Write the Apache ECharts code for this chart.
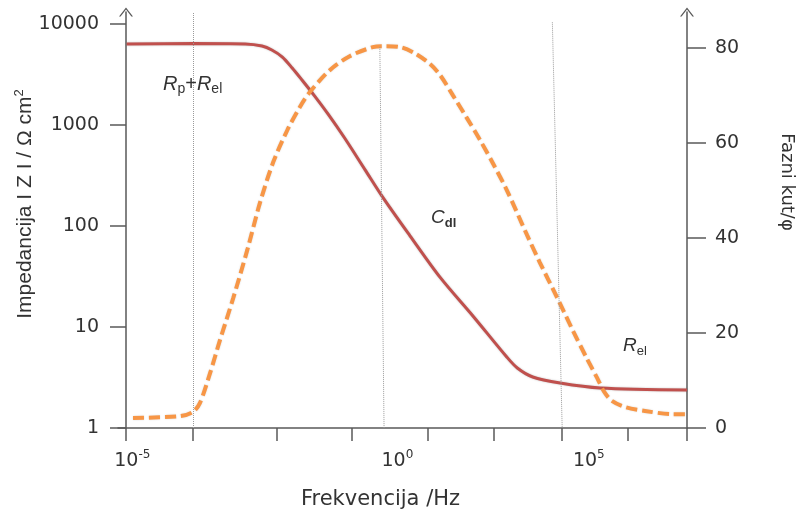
<!DOCTYPE html>
<html>
<head>
<meta charset="utf-8">
<script src="https://cdn.jsdelivr.net/npm/echarts@6/dist/echarts.min.js"></script>
<style>
  html, body { margin: 0; padding: 0; background: #fff; }
  #chart { width: 805px; height: 515px; }
</style>
</head>
<body>
<div id="chart"></div>
<script>
// positions along the (schematic) frequency axis, 0 = 10^-5 tick
const xTicks = [0, 0.955, 2.15, 3.22, 4.31, 5.25, 6.22, 7.16, 8];
const xLabelPos = [0.09, 3.87, 6.6];
const xLabelExp = ['-5', '0', '5'];

// |Z| curve
const impFreq = [0.01, 0.96, 1.70, 1.94, 2.08, 2.23, 2.37, 2.51, 2.68, 2.88, 3.12, 3.41, 3.67, 4.05, 4.48, 4.95, 5.43, 5.58, 5.80, 6.19, 6.76, 8.0];
const impedance = [6350, 6400, 6350, 6050, 5530, 4710, 3670, 2790, 1980, 1290, 740, 360, 189, 80, 31, 12.8, 5.05, 3.93, 3.2, 2.79, 2.49, 2.38];

// phase angle curve
const phaseFreq = [0.10, 0.77, 0.955, 1.055, 1.20, 1.34, 1.53, 1.73, 1.91, 2.10, 2.30, 2.48, 2.62, 2.91, 3.19, 3.52, 3.67, 3.91, 4.12, 4.34, 4.48, 4.66, 4.86, 5.05, 5.23, 5.43, 5.72, 5.90, 6.15, 6.37, 6.57, 6.72, 6.82, 6.93, 7.12, 7.40, 7.80, 8.0];
const phase = [2.1, 2.5, 3.4, 5.3, 11.6, 18.5, 27.4, 37.5, 47.4, 56.0, 62.7, 67.6, 70.7, 75.4, 78.3, 80.2, 80.4, 80.2, 78.9, 76.6, 74.3, 70.1, 65.3, 60.6, 55.8, 50.1, 40.6, 34.9, 27.4, 20.6, 14.7, 10.5, 7.6, 5.7, 4.4, 3.6, 2.9, 2.9];

const impTicks = [1, 10, 100, 1000, 10000];
const phaseTicks = [0, 20, 40, 60, 80];

// dotted guide lines [x0, |Z|0, x1, |Z|1]
const guides = [
  [0.955, 12850, 0.955, 1],
  [3.62, 5900, 3.68, 1],
  [6.08, 10400, 6.22, 1]
];

const axisColor = '#595959';
const arrow = 'path://M0,9 L7,0 L14,9 L12.4,9 L7,2 L1.6,9 Z';

const chart = echarts.init(document.getElementById('chart'));

const option = {
  animation: false,
  grid: { left: 118, right: 118, top: 12, bottom: 87, outerBoundsMode: 'none', containLabel: false },
  xAxis: {
    type: 'value',
    min: -0.114,
    max: 8,
    splitLine: { show: false },
    axisLine: { onZero: false, lineStyle: { color: axisColor, width: 1.5 } },
    axisTick: { customValues: xTicks, length: 13, lineStyle: { color: axisColor, width: 1.5 } },
    axisLabel: {
      customValues: xLabelPos,
      margin: 21,
      formatter: function (v) {
        const i = xLabelPos.indexOf(v);
        return '{b|10}{sup|' + xLabelExp[i] + '}';
      },
      rich: {
        b: { fontFamily: 'DejaVu Sans', fontSize: 19, color: '#333', lineHeight: 24 },
        sup: { fontFamily: 'DejaVu Sans', fontSize: 12, color: '#333', verticalAlign: 'top', lineHeight: 14 }
      }
    },
    name: 'Frekvencija /Hz',
    nameLocation: 'middle',
    nameGap: 61,
    nameMoveOverlap: false,
    nameTextStyle: { fontFamily: 'DejaVu Sans', fontSize: 21, color: '#333', padding: [0, 44, 0, 0] }
  },
  yAxis: [
    {
      type: 'log',
      min: 1,
      max: 13150,
      splitLine: { show: false },
      axisLine: { show: true, onZero: true, symbol: ['none', arrow], symbolSize: [14, 9], lineStyle: { color: axisColor, width: 1.5 } },
      axisTick: { customValues: impTicks, length: 16, lineStyle: { color: axisColor, width: 1.5 } },
      axisLabel: {
        customValues: impTicks, margin: 19, fontFamily: 'DejaVu Sans', fontSize: 19, color: '#333',
        formatter: v => String(Math.round(v))
      },
      name: '{a|Impedancija I Z I / Ω cm}{s|2}',
      nameLocation: 'middle',
      nameGap: 81,
      nameMoveOverlap: false,
      nameTextStyle: {
        fontFamily: 'Liberation Sans', fontSize: 21, color: '#333',
        padding: [0, 0, 0, 32],
        rich: {
          a: { fontFamily: 'Liberation Sans', fontSize: 21, color: '#333', lineHeight: 24 },
          s: { fontFamily: 'Liberation Sans', fontSize: 13, color: '#333', verticalAlign: 'top', lineHeight: 14 }
        }
      }
    },
    {
      type: 'value',
      position: 'right',
      min: 0,
      max: 87.6,
      splitLine: { show: false },
      axisLine: { show: true, onZero: false, symbol: ['none', arrow], symbolSize: [14, 9], lineStyle: { color: axisColor, width: 1.5 } },
      axisTick: { customValues: phaseTicks, length: 19, lineStyle: { color: axisColor, width: 1.5 } },
      axisLabel: { customValues: phaseTicks, margin: 28, fontFamily: 'DejaVu Sans', fontSize: 19, color: '#333' },
      name: 'Fazni kut/φ',
      nameLocation: 'middle',
      nameRotate: -90,
      nameGap: 91,
      nameMoveOverlap: false,
      nameTextStyle: { fontFamily: 'DejaVu Sans', fontSize: 18, color: '#333', padding: [0, 76, 0, 0] }
    }
  ],
  series: [
    {
      name: '|Z|',
      type: 'line',
      yAxisIndex: 0,
      data: impFreq.map((x, i) => [x, impedance[i]]),
      smooth: 0.3,
      symbol: 'none',
      lineStyle: { color: '#c0504d', width: 3, shadowColor: 'rgba(0,0,0,0.25)', shadowBlur: 2 },
      z: 3,
      markLine: {
        silent: true,
        symbol: 'none',
        label: { show: false },
        lineStyle: { color: '#9a9a9a', width: 1, type: 'dotted' },
        data: guides.map(g => [{ coord: [g[0], g[1]] }, { coord: [g[2], g[3]] }])
      }
    },
    {
      name: 'phase',
      type: 'line',
      yAxisIndex: 1,
      data: phaseFreq.map((x, i) => [x, phase[i]]),
      smooth: 0.3,
      symbol: 'none',
      lineStyle: { color: '#f79646', width: 4, type: [11, 5], shadowColor: 'rgba(0,0,0,0.15)', shadowBlur: 2 },
      z: 4
    }
  ],
  graphic: [
    {
      type: 'text', left: 163, top: 74,
      style: {
        text: '{i|R}{s|p}{n|+}{i|R}{s|el}',
        rich: {
          i: { fontFamily: 'Liberation Sans', fontStyle: 'italic', fontSize: 20, fill: '#333', lineHeight: 24 },
          n: { fontFamily: 'Liberation Sans', fontSize: 20, fill: '#333', lineHeight: 24 },
          s: { fontFamily: 'Liberation Sans', fontSize: 14, fill: '#333', verticalAlign: 'bottom', lineHeight: 14 }
        }
      }
    },
    {
      type: 'text', left: 431, top: 208,
      style: {
        text: '{i|C}{s|dl}',
        rich: {
          i: { fontFamily: 'Liberation Sans', fontStyle: 'italic', fontSize: 19, fill: '#333', lineHeight: 24 },
          s: { fontFamily: 'Liberation Sans', fontWeight: 'bold', fontSize: 13, fill: '#333', verticalAlign: 'bottom', lineHeight: 14 }
        }
      }
    },
    {
      type: 'text', left: 623, top: 336,
      style: {
        text: '{i|R}{s|el}',
        rich: {
          i: { fontFamily: 'Liberation Sans', fontStyle: 'italic', fontSize: 19, fill: '#333', lineHeight: 24 },
          s: { fontFamily: 'Liberation Sans', fontSize: 13, fill: '#333', verticalAlign: 'bottom', lineHeight: 14 }
        }
      }
    }
  ]
};

chart.setOption(option);
</script>
</body>
</html>
